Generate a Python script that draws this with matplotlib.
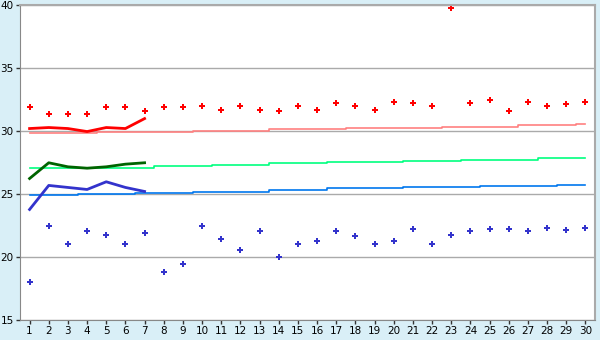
import matplotlib
matplotlib.use("Agg")
import matplotlib.pyplot as plt

days = list(range(1, 31))

max_points = [31.93, 31.33, 31.33, 31.33, 31.93, 31.93, 31.64, 31.93, 31.93, 32.04,
              31.72, 32.04, 31.72, 31.64, 32.04, 31.72, 32.2, 32.04, 31.72, 32.28,
              32.2, 32.04, 39.8, 32.2, 32.5, 31.64, 32.28, 32.04, 32.12, 32.28]
min_points = [18.0, 22.5, 21.0, 22.04, 21.72, 21.0, 21.88, 18.78, 19.42, 22.44,
              21.4, 20.53, 22.04, 20.0, 21.0, 21.24, 22.04, 21.64, 21.0, 21.24,
              22.2, 21.0, 21.72, 22.04, 22.2, 22.2, 22.04, 22.28, 22.12, 22.28]

line_days = [1, 2, 3, 4, 5, 6, 7]
max_line = [30.21, 30.29, 30.21, 29.97, 30.29, 30.21, 31.0]
mean_line = [26.24, 27.49, 27.17, 27.06, 27.17, 27.38, 27.49]
min_line = [23.78, 25.69, 25.53, 25.37, 25.98, 25.53, 25.21]

max_normal = [29.84, 29.84, 29.84, 29.84, 29.95, 29.95, 29.95, 29.95, 29.95, 30.0,
              30.0, 30.0, 30.0, 30.16, 30.16, 30.16, 30.16, 30.24, 30.24, 30.24,
              30.24, 30.24, 30.32, 30.32, 30.32, 30.32, 30.46, 30.46, 30.46, 30.56]
mean_normal = [27.07, 27.07, 27.07, 27.07, 27.07, 27.07, 27.07, 27.22, 27.22, 27.22,
               27.3, 27.3, 27.3, 27.46, 27.46, 27.46, 27.54, 27.54, 27.54, 27.54,
               27.62, 27.62, 27.62, 27.7, 27.7, 27.7, 27.7, 27.86, 27.86, 27.86]
min_normal = [24.95, 24.95, 24.95, 25.03, 25.03, 25.03, 25.1, 25.1, 25.1, 25.2,
              25.2, 25.2, 25.2, 25.31, 25.31, 25.31, 25.45, 25.45, 25.45, 25.45,
              25.56, 25.56, 25.56, 25.56, 25.63, 25.63, 25.63, 25.63, 25.71, 25.71]

y_ticks = [15, 20, 25, 30, 35, 40]

fig = plt.figure(figsize=(6, 3.4), dpi=100)
fig.patch.set_facecolor("#D9EFF7")
ax = fig.add_axes([20/600, 20/340, 575/600, 314.7/340])
ax.set_facecolor("white")

ax.set_xlim(0.5, 30.5)
ax.set_ylim(15, 40)
ax.set_yticks(y_ticks)
ax.set_xticks(days)
ax.grid(axis="y", color="#AAAAAA", linewidth=1.0)
ax.set_axisbelow(True)

ax.plot(days, max_normal, color="#FF8080", linewidth=1.2, drawstyle="steps-mid")
ax.plot(days, mean_normal, color="#00FF7F", linewidth=1.2, drawstyle="steps-mid")
ax.plot(days, min_normal, color="#0077EE", linewidth=1.2, drawstyle="steps-mid")

ax.plot(line_days, max_line, color="#FF0000", linewidth=2)
ax.plot(line_days, mean_line, color="#006400", linewidth=2)
ax.plot(line_days, min_line, color="#3333CC", linewidth=2)

ax.plot(days, max_points, linestyle="none", marker="P", markersize=4.2,
        color="#FF0000", markeredgewidth=0)
ax.plot(days, min_points, linestyle="none", marker="P", markersize=4.2,
        color="#3333CC", markeredgewidth=0)

for side in ["top", "right"]:
    ax.spines[side].set_color("#AAAAAA")
    ax.spines[side].set_linewidth(1.5)
ax.spines["left"].set_color("#888888")
ax.spines["bottom"].set_color("#888888")
ax.tick_params(axis="both", length=3, width=1, color="#333333",
               labelsize=7.5, labelcolor="black", pad=1.5)

fig.savefig("out.png", dpi=100, facecolor=fig.get_facecolor())
